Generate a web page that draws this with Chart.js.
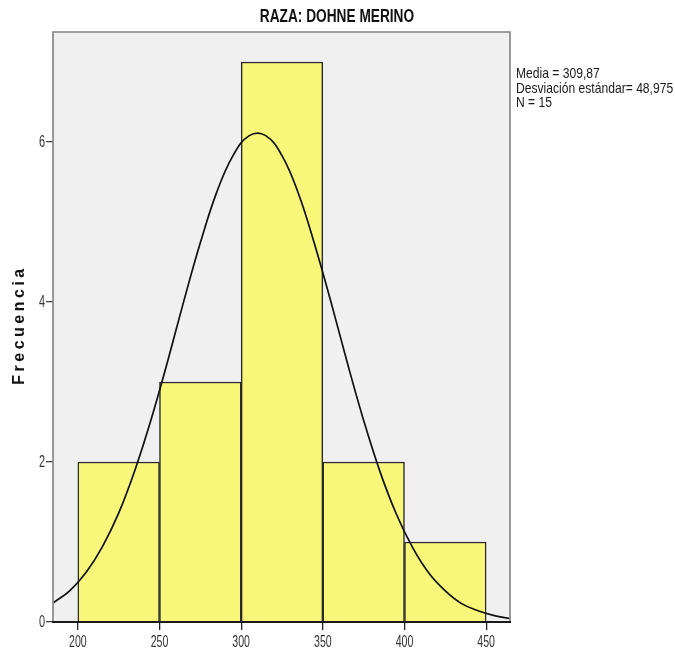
<!DOCTYPE html>
<html>
<head>
<meta charset="utf-8">
<script src="https://cdn.jsdelivr.net/npm/chart.js@4"></script>
<style>
html,body{margin:0;padding:0;background:#fff;}
#wrap{width:675px;height:654px;position:relative;}
</style>
</head>
<body>
<div id="wrap"><canvas id="c" width="675" height="654"></canvas></div>
<script>
const chartTitle = "RAZA: DOHNE MERINO";
const yAxisTitle = "Frecuencia";
const statsLines = ["Media = 309,87", "Desviación estándar= 48,975", "N = 15"];
const binCenters = [225, 275, 325, 375, 425];
const binCounts = [2, 3, 7, 2, 1];
const xTicks = [200, 250, 300, 350, 400, 450];
const yTicks = [0, 2, 4, 6];
const curveX = [185,195,205,215,225,235,245,255,265,275,285,295,305,315,325,335,345,355,365,375,385,395,405,415,425,435,445,455,465];
const curveY = [0.24,0.39,0.62,0.94,1.36,1.90,2.54,3.26,4.02,4.74,5.37,5.83,6.08,6.08,5.83,5.36,4.72,4.00,3.24,2.52,1.88,1.35,0.93,0.61,0.39,0.23,0.14,0.08,0.04];

const SANS = '"Liberation Sans", Arial, sans-serif';

function squish(ctx, text, x, y, font, sx, align) {
  ctx.save();
  ctx.font = font;
  const w = ctx.measureText(text).width * sx;
  let left = x;
  if (align === 'center') left = x - w / 2;
  else if (align === 'right') left = x - w;
  ctx.translate(left, y);
  ctx.scale(sx, 1);
  ctx.textAlign = 'left';
  ctx.textBaseline = 'middle';
  ctx.fillText(text, 0, 0);
  ctx.restore();
}

const decor = {
  id: 'decor',
  beforeDraw(chart) {
    const {ctx, chartArea: a} = chart;
    ctx.save();
    ctx.fillStyle = '#f0f0f0';
    ctx.fillRect(a.left, a.top, a.right - a.left, a.bottom - a.top);
    ctx.restore();
  },
  afterDraw(chart) {
    const {ctx, chartArea: a, scales} = chart;
    ctx.save();
    // frame
    ctx.strokeStyle = '#808080';
    ctx.lineWidth = 1.6;
    ctx.beginPath();
    ctx.moveTo(a.left, a.bottom);
    ctx.lineTo(a.left, a.top);
    ctx.lineTo(a.right, a.top);
    ctx.lineTo(a.right, a.bottom);
    ctx.stroke();
    ctx.strokeStyle = '#1a1a1a';
    ctx.lineWidth = 2;
    ctx.beginPath();
    ctx.moveTo(a.left - 1, a.bottom);
    ctx.lineTo(a.right + 1, a.bottom);
    ctx.stroke();
    ctx.fillStyle = '#111';
    // title
    squish(ctx, chartTitle, 337, 17, 'bold 19px ' + SANS, 0.72, 'center');
    // stats
    ctx.fillStyle = '#1a1a1a';
    statsLines.forEach((s, i) => squish(ctx, s, 516, 74 + i * 14.5, '14.5px ' + SANS, 0.835, 'left'));
    // tick labels
    ctx.fillStyle = '#333';
    xTicks.forEach(v => squish(ctx, String(v), scales.x.getPixelForValue(v), 643, '16px ' + SANS, 0.66, 'center'));
    yTicks.forEach(v => squish(ctx, String(v), 45, scales.y.getPixelForValue(v) + 1, '16px ' + SANS, 0.68, 'right'));
    // y title
    ctx.fillStyle = '#111';
    ctx.translate(20, 325);
    ctx.rotate(-Math.PI / 2);
    ctx.font = 'bold 16px ' + SANS;
    try { ctx.letterSpacing = '3.5px'; } catch (e) {}
    ctx.textAlign = 'center';
    ctx.textBaseline = 'middle';
    ctx.fillText(yAxisTitle, 0, 0);
    ctx.restore();
  }
};

new Chart(document.getElementById('c'), {
  type: 'bar',
  data: {
    datasets: [
      {
        type: 'line',
        data: curveX.map((x, i) => ({x: x, y: curveY[i]})),
        borderColor: '#111',
        borderWidth: 1.7,
        pointRadius: 0,
        tension: 0.4,
        fill: false,
        order: 0,
        clip: 0
      },
      {
        type: 'bar',
        data: binCenters.map((x, i) => ({x: x, y: binCounts[i]})),
        backgroundColor: '#f9f77a',
        borderColor: '#2a2a2a',
        borderWidth: 1.5,
        barPercentage: 1,
        categoryPercentage: 1,
        order: 1
      }
    ]
  },
  options: {
    responsive: false,
    animation: false,
    layout: {padding: {top: 32, right: 165, left: 0, bottom: 0}},
    plugins: {legend: {display: false}, tooltip: {enabled: false}, title: {display: false}},
    scales: {
      x: {
        type: 'linear',
        min: 184.8,
        max: 464.6,
        offset: false,
        afterBuildTicks: s => { s.ticks = xTicks.map(v => ({value: v})); },
        afterFit: s => { s.height = 32; },
        grid: {offset: false, drawOnChartArea: false, drawTicks: true, tickLength: 8, color: '#222', lineWidth: 1.3},
        border: {display: false},
        ticks: {display: false}
      },
      y: {
        min: 0,
        max: 7.375,
        afterBuildTicks: s => { s.ticks = yTicks.map(v => ({value: v})); },
        afterFit: s => { s.width = 53; },
        grid: {offset: false, drawOnChartArea: false, drawTicks: true, tickLength: 7, color: '#444', lineWidth: 1.3},
        border: {display: false},
        ticks: {display: false}
      }
    }
  },
  plugins: [decor]
});
</script>
</body>
</html>
